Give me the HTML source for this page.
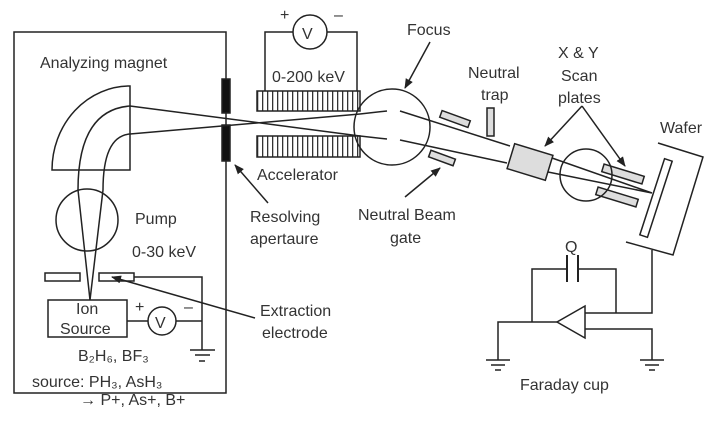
<!DOCTYPE html>
<html><head><style>
html,body{margin:0;padding:0;background:#fff;}
svg{display:block}
text{font-family:"Liberation Sans",Arial,sans-serif;fill:#333;font-size:16px}
</style></head><body>
<svg width="714" height="425" viewBox="0 0 714 425" xmlns="http://www.w3.org/2000/svg">
<defs>
<marker id="a" markerWidth="10" markerHeight="8" refX="9" refY="4" orient="auto" markerUnits="userSpaceOnUse"><path d="M0,0 L10,4 L0,8 z" fill="#222"/></marker>
<pattern id="st" x="257" y="0" width="5" height="30" patternUnits="userSpaceOnUse"><rect x="0" y="0" width="1.3" height="30" fill="#333"/></pattern>
</defs>
<g stroke="#222" stroke-width="1.5" fill="none">
<path d="M14,32 H226 V393 H14 Z"/>
<rect x="222" y="79" width="8" height="34" fill="#111"/>
<rect x="222" y="125" width="8" height="36" fill="#111"/>
<path d="M52,170 A78,84 0 0 1 130,86 V170 Z"/>
<path d="M130,106 Q78,110 78,190 L90,300"/>
<path d="M130,134 Q103,136 103,190 L90,300"/>
<path d="M130,106 L360,136"/>
<path d="M130,134 L360,114"/>
<circle cx="87" cy="220" r="31"/>
<rect x="45" y="273" width="35" height="8"/>
<rect x="99" y="273" width="35" height="8"/>
<path d="M134,277 H202 V350"/>
<path d="M190,350 H215 M195,355 H210 M199,361 H205"/>
<rect x="48" y="300" width="79" height="37"/>
<path d="M127,321 H148 M176,321 H202"/>
<circle cx="162" cy="321" r="14"/>
<rect x="257" y="91" width="103" height="20" fill="url(#st)"/>
<rect x="257" y="136" width="103" height="21" fill="url(#st)"/>
<path d="M265,91 V32 H293 M327,32 H357 V91"/>
<circle cx="310" cy="32" r="17"/>
<circle cx="392" cy="127" r="38"/>
<path d="M360,114 L387,111 M360,136 L387,139"/>
<path d="M400,111 L510,146 M400,140 L507,163"/>
<path d="M552,158 L652,193 M548,172 L652,193"/>
<g fill="#ddd">
<rect x="-15" y="-3.5" width="30" height="7" transform="translate(455,119) rotate(20)"/>
<rect x="-13" y="-3.5" width="26" height="7" transform="translate(442,158) rotate(20)"/>
<rect x="487" y="108" width="7" height="28"/>
<rect x="-20" y="-13" width="40" height="26" transform="translate(530,162) rotate(17)"/>
<rect x="-21" y="-4" width="42" height="8" transform="translate(623,174) rotate(17)"/>
<rect x="-21" y="-4" width="42" height="8" transform="translate(617,197) rotate(17)"/>
</g>
<circle cx="586" cy="175" r="26"/>
<rect x="-4" y="-40" width="8" height="80" transform="translate(656,198) rotate(18)"/>
<path d="M658,143 L703,157 L673,255 L626,242"/>
<path d="M652,250 V313 H585 M616,313 V269 H578 M567,269 H532 V322"/>
<path d="M567,255 V282 M578,255 V282" stroke-width="2"/>
<path d="M585,306 V338 L557,322 Z"/>
<path d="M585,329 H652 V360 M557,322 H498 V360"/>
<path d="M486,360 H510 M491,365 H505 M495,370 H501"/>
<path d="M640,360 H664 M645,365 H659 M649,370 H655"/>
</g>
<g stroke="#222" stroke-width="1.5" marker-end="url(#a)">
<line x1="268" y1="203" x2="235" y2="165"/>
<line x1="255" y1="318" x2="112" y2="277"/>
<line x1="430" y1="42" x2="405" y2="88"/>
<line x1="405" y1="197" x2="440" y2="168"/>
<line x1="582" y1="106" x2="545" y2="146"/>
<line x1="582" y1="106" x2="625" y2="166"/>
</g>
<text x="302" y="39" font-size="20">V</text>
<text x="155" y="328" font-size="18">V</text>
<text x="40" y="68">Analyzing magnet</text>
<text x="135" y="224">Pump</text>
<text x="132" y="257">0-30 keV</text>
<text x="76" y="314" font-size="15">Ion</text>
<text x="60" y="334" font-size="15">Source</text>
<text x="135" y="312">+</text>
<text x="184" y="312">–</text>
<text x="78" y="361" font-size="14">B₂H₆, BF₃</text>
<text x="32" y="387" font-size="22" fill="#000">source: PH₃, AsH₃</text>
<text x="80" y="405" font-size="12" fill="#000">→ P+, As+, B+</text>
<text x="280" y="20">+</text>
<text x="334" y="20">–</text>
<text x="272" y="82">0-200 keV</text>
<text x="257" y="180">Accelerator</text>
<text x="250" y="222">Resolving</text>
<text x="250" y="244">apertaure</text>
<text x="260" y="316">Extraction</text>
<text x="262" y="338">electrode</text>
<text x="407" y="35">Focus</text>
<text x="468" y="78">Neutral</text>
<text x="481" y="100">trap</text>
<text x="558" y="58">X &amp; Y</text>
<text x="561" y="81">Scan</text>
<text x="558" y="103">plates</text>
<text x="660" y="133">Wafer</text>
<text x="358" y="220">Neutral Beam</text>
<text x="390" y="243">gate</text>
<text x="565" y="252">Q</text>
<text x="520" y="390">Faraday cup</text>
</svg>
</body></html>
